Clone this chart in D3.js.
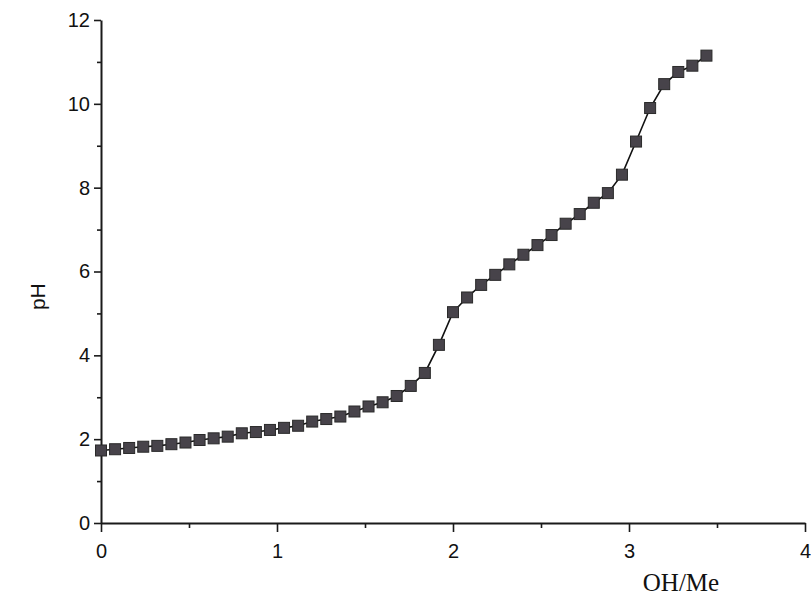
<!DOCTYPE html>
<html>
<head>
<meta charset="utf-8">
<script src="https://cdn.jsdelivr.net/npm/d3@7"></script>
<style>
  html, body { margin: 0; padding: 0; background: #fff; }
  svg { display: block; }
</style>
</head>
<body>
<svg id="chart" width="811" height="595"></svg>
<script>
// ---- data ----
const ohMe = [
  0.00, 0.08, 0.16, 0.24, 0.32, 0.40, 0.48, 0.56, 0.64, 0.72,
  0.80, 0.88, 0.96, 1.04, 1.12, 1.20, 1.28, 1.36, 1.44, 1.52,
  1.60, 1.68, 1.76, 1.84, 1.92, 2.00, 2.08, 2.16, 2.24, 2.32,
  2.40, 2.48, 2.56, 2.64, 2.72, 2.80, 2.88, 2.96, 3.04, 3.12,
  3.20, 3.28, 3.36, 3.44
];
const pH = [
  1.73, 1.76, 1.79, 1.82, 1.84, 1.88, 1.92, 1.98, 2.02, 2.06,
  2.14, 2.17, 2.22, 2.27, 2.32, 2.42, 2.48, 2.54, 2.66, 2.78,
  2.88, 3.03, 3.27, 3.58, 4.25, 5.03, 5.38, 5.68, 5.92, 6.17,
  6.40, 6.63, 6.87, 7.14, 7.37, 7.64, 7.87, 8.31, 9.10, 9.90,
  10.47, 10.76, 10.91, 11.15
];
const xMajorTicks = [0, 1, 2, 3, 4];
const xMinorTicks = [0.5, 1.5, 2.5, 3.5];
const yMajorTicks = [0, 2, 4, 6, 8, 10, 12];
const yMinorTicks = [1, 3, 5, 7, 9, 11];
const xTitle = "OH/Me";
const yTitle = "pH";

// ---- drawing ----
const svg = d3.select("#chart");
const x = d3.scaleLinear().domain([0, 4]).range([101, 805]);
const y = d3.scaleLinear().domain([0, 12]).range([523, 20]);
const data = ohMe.map((v, i) => ({ x: v, y: pH[i] }));

const axisColor = "#1a1a1a";
const sans = "'Liberation Sans', Arial, sans-serif";
const serif = "'Liberation Serif', 'Times New Roman', serif";

// X axis
const gx = svg.append("g").attr("transform", `translate(0,${y(0)})`);
gx.call(d3.axisBottom(x).tickValues(xMajorTicks).tickSize(9).tickPadding(12).tickFormat(d3.format("d")).tickSizeOuter(0));
const gxm = svg.append("g").attr("transform", `translate(0,${y(0)})`);
gxm.call(d3.axisBottom(x).tickValues(xMinorTicks).tickSize(5).tickFormat("").tickSizeOuter(0));
gxm.select(".domain").remove();

// Y axis
const gy = svg.append("g").attr("transform", `translate(${x(0)},0)`);
gy.call(d3.axisLeft(y).tickValues(yMajorTicks).tickSize(7).tickPadding(4).tickFormat(d3.format("d")).tickSizeOuter(0));
const gym = svg.append("g").attr("transform", `translate(${x(0)},0)`);
gym.call(d3.axisLeft(y).tickValues(yMinorTicks).tickSize(4).tickFormat("").tickSizeOuter(0));
gym.select(".domain").remove();

svg.selectAll(".domain").attr("stroke", axisColor).attr("stroke-width", 2);
svg.selectAll(".tick line").attr("stroke", axisColor).attr("stroke-width", 1.6);
svg.selectAll(".tick text").attr("fill", "#111").style("font-family", sans).style("font-size", "20px");

// connecting line
const line = d3.line().x(d => x(d.x)).y(d => y(d.y));
svg.append("path")
  .datum(data)
  .attr("d", line)
  .attr("fill", "none")
  .attr("stroke", "#111")
  .attr("stroke-width", 1.6);

// square markers
const s = 11;
svg.append("g").selectAll("rect")
  .data(data)
  .enter().append("rect")
  .attr("x", d => x(d.x) - s / 2)
  .attr("y", d => y(d.y) - s / 2)
  .attr("width", s)
  .attr("height", s)
  .attr("fill", "#47434a")
  .attr("stroke", "#2a2a2a")
  .attr("stroke-width", 1);

// titles
svg.append("text")
  .attr("transform", `translate(45,${y(5.4)}) rotate(-90)`)
  .attr("text-anchor", "middle")
  .style("font-family", sans)
  .style("font-size", "21px")
  .attr("fill", "#111")
  .text(yTitle);

svg.append("text")
  .attr("x", 681)
  .attr("y", 591)
  .attr("text-anchor", "middle")
  .style("font-family", serif)
  .style("font-size", "25px")
  .attr("fill", "#111")
  .text(xTitle);
</script>
</body>
</html>
